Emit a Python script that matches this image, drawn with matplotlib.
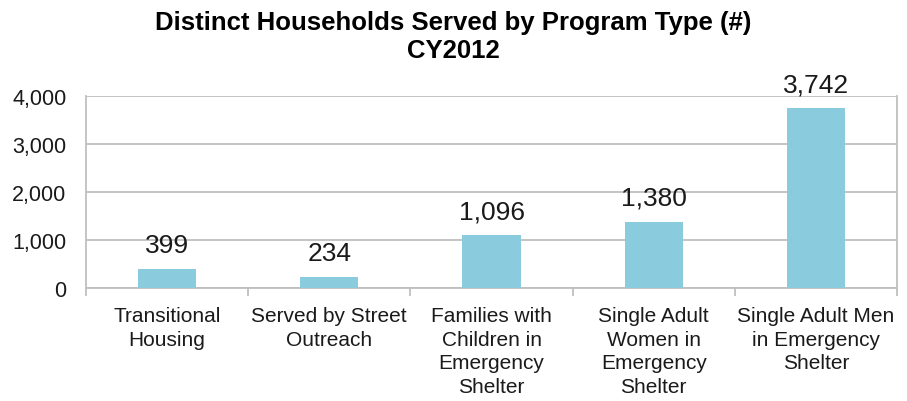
import matplotlib
matplotlib.use("Agg")
from matplotlib import pyplot as plt

categories = ["Transitional\nHousing", "Served by Street\nOutreach",
              "Families with\nChildren in\nEmergency\nShelter",
              "Single Adult\nWomen in\nEmergency\nShelter",
              "Single Adult Men\nin Emergency\nShelter"]
households = [399, 234, 1096, 1380, 3742]
yticks = [0, 1000, 2000, 3000, 4000]

BAR = "#8ACBDE"
GRID = "#BFBFBF"


def main():
    plt.rcParams['font.family'] = ['Liberation Sans', 'DejaVu Sans']
    fig = plt.figure(figsize=(9.07, 4.02), dpi=100)
    ax = fig.add_axes([0.0948, 0.281, 0.8942, 0.478])

    x = range(len(categories))
    ax.bar(x, households, width=0.36, color=BAR, zorder=3)
    for xi, v in zip(x, households):
        ax.annotate(f"{v:,}", (xi, v), xytext=(0, 8.5), textcoords="offset points",
                    ha="center", va="bottom", fontsize=19, color="#1a1a1a", zorder=4)

    ax.set_xlim(-0.5, len(categories) - 0.5)
    ax.set_ylim(0, 4000)
    ax.set_yticks(yticks)
    ax.set_yticklabels([f"{t:,}" for t in yticks], fontsize=15.5, color="#1a1a1a")
    ax.yaxis.grid(True, color=GRID, linewidth=1.3, zorder=0)
    ax.tick_params(axis="y", length=0, pad=14)

    ax.set_xticks([i + 0.5 for i in range(-1, len(categories))], minor=False)
    ax.set_xticklabels([])
    ax.tick_params(axis="x", which="major", length=6, width=1.3, color=GRID)
    ax.set_xticks(list(x), minor=True)
    ax.set_xticklabels(categories, minor=True, fontsize=15, color="#1a1a1a", linespacing=1.3)
    ax.tick_params(axis="x", which="minor", length=0, pad=13)

    for side in ["left", "right", "bottom"]:
        ax.spines[side].set_color(GRID)
        ax.spines[side].set_linewidth(1.3)
    ax.spines["top"].set_visible(False)

    fig.suptitle("Distinct Households Served by Program Type (#)\nCY2012",
                 y=0.973, fontsize=18.5, fontweight="bold", linespacing=1.2)
    fig.savefig("out.png", dpi=100)


if __name__ == '__main__':
    main()
